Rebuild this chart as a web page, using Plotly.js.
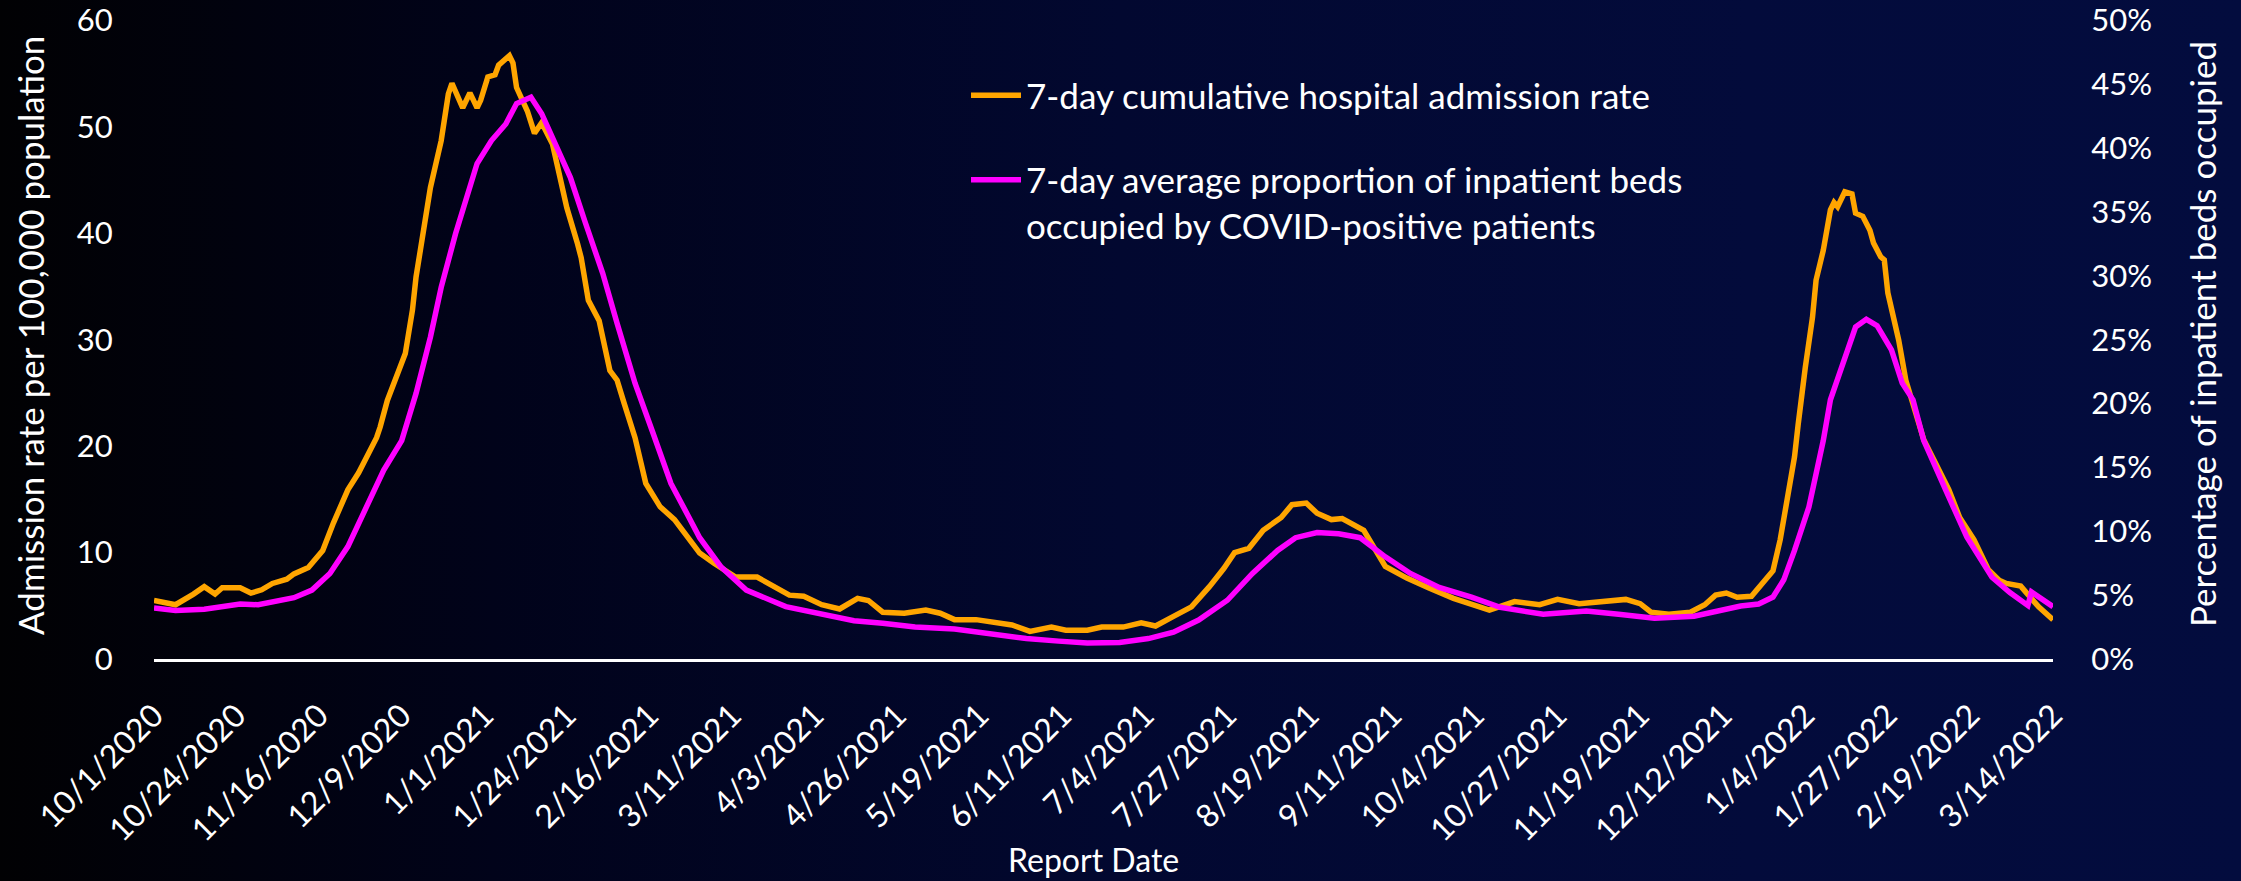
<!DOCTYPE html>
<html><head><meta charset="utf-8">
<script src="https://cdn.plot.ly/plotly-3.0.1.min.js"></script>
<style>
html,body{margin:0;padding:0;width:2241px;height:881px;overflow:hidden;
background:linear-gradient(90deg,#010103 0%,#01031a 22%,#020830 50%,#030b3b 78%,#030c3e 100%);}
#chart{width:2241px;height:881px;}
</style></head><body><div id="chart"></div>
<script>
const startDate = '2020-10-01';
const endDate = '2022-03-14';
const tickLabels = ['10/1/2020','10/24/2020','11/16/2020','12/9/2020','1/1/2021','1/24/2021','2/16/2021','3/11/2021','4/3/2021','4/26/2021','5/19/2021','6/11/2021','7/4/2021','7/27/2021','8/19/2021','9/11/2021','10/4/2021','10/27/2021','11/19/2021','12/12/2021','1/4/2022','1/27/2022','2/19/2022','3/14/2022'];
const leftTicks = [0,10,20,30,40,50,60];
const rightTicks = [0,5,10,15,20,25,30,35,40,45,50];

// Days since 10/1/2020 and 7-day cumulative admission rate per 100,000
const admissionDays = [0,6,11,14,17,19,24,27,30,33,37,39,43,47,50,54,57,60,62,63,65,70,72,73,75,77,80,81,82,83,86,88,90,91,93,95,96,99,100,101,104,106,108,111,113,115,118,119,121,124,127,129,131,134,137,141,145,149,152,156,162,168,171,177,181,186,191,196,199,203,209,215,219,223,229,233,239,244,250,254,260,264,270,275,279,284,289,294,298,301,305,309,314,317,321,324,328,331,337,343,349,355,362,372,375,379,386,391,397,404,410,414,417,422,428,432,435,438,441,445,448,451,453,455,457,458,459,460,462,463,465,467,468,469,471,473,474,476,478,479,481,482,483,486,488,493,500,503,507,511,514,516,520,522,525,529];
const admissionRate = [5.5,5.1,6.1,6.8,6.1,6.7,6.7,6.2,6.5,7.1,7.5,8.0,8.6,10.2,12.8,15.9,17.5,19.6,20.8,21.8,24.3,28.7,32.8,35.9,40.0,44.3,48.7,50.9,53.1,54.1,51.8,53.2,51.8,52.5,54.7,54.9,55.8,56.7,56.0,53.7,51.5,49.4,50.4,48.4,45.6,42.4,39.0,37.7,33.7,31.8,27.1,26.2,24.0,20.8,16.5,14.3,13.1,11.2,9.95,9.0,7.7,7.7,7.1,6.0,5.9,5.1,4.7,5.7,5.5,4.4,4.3,4.6,4.3,3.7,3.7,3.5,3.2,2.6,3.0,2.7,2.7,3.0,3.0,3.4,3.1,4.0,4.9,6.8,8.5,10.0,10.4,12.1,13.3,14.5,14.65,13.7,13.1,13.2,12.1,8.7,7.6,6.7,5.7,4.6,5.0,5.4,5.1,5.6,5.2,5.35,5.6,5.2,4.4,4.2,4.4,5.1,6.0,6.2,5.8,5.9,7.2,8.3,11.2,14.9,19.0,22.0,24.3,27.4,32.1,35.6,38.4,42.2,42.9,42.5,43.9,43.7,41.9,41.6,40.3,39.1,37.8,37.5,34.4,30.0,26.2,20.6,15.9,13.3,11.2,8.4,7.4,7.1,6.85,6.0,4.9,3.7];

// Days since 10/1/2020 and 7-day average % of inpatient beds occupied by COVID-positive patients
const bedsDays = [0,6,14,19,24,29,34,39,44,49,54,59,64,69,73,77,80,84,88,90,94,98,101,105,108,111,116,120,125,129,134,139,144,149,152,158,165,176,185,195,203,212,223,232,243,252,260,269,277,284,291,299,306,313,318,324,330,336,343,350,358,367,375,387,399,408,418,429,437,442,447,451,454,457,461,464,465,467,471,474,477,480,484,487,490,493,499,505,512,517,522,523,529];
const bedsPct = [4.0,3.8,3.9,4.15,4.3,4.25,4.5,4.8,5.4,6.7,8.8,11.7,14.8,17.1,20.8,25.2,29.1,33.3,36.9,38.8,40.6,41.9,43.5,44.0,42.7,40.8,37.7,34.3,30.2,26.3,21.6,17.7,13.75,11.1,9.5,7.2,5.4,4.1,3.6,3.0,2.8,2.5,2.35,2.0,1.6,1.4,1.25,1.3,1.6,2.1,3.05,4.6,6.7,8.5,9.5,9.9,9.8,9.5,8.0,6.7,5.6,4.85,4.05,3.5,3.75,3.5,3.2,3.35,3.9,4.15,4.3,4.85,6.2,8.5,11.9,15.6,17.1,20.3,23.7,26.0,26.6,26.1,24.2,21.6,20.3,17.1,13.3,9.55,6.4,5.2,4.2,5.25,4.1];

function dayToDate(n){
  const d = new Date(startDate + 'T00:00:00Z');
  d.setUTCDate(d.getUTCDate() + n);
  return d.toISOString().slice(0,10);
}
function labelToDate(s){
  const [m,d,y] = s.split('/');
  return y + '-' + m.padStart(2,'0') + '-' + d.padStart(2,'0');
}

const W = 2241, H = 881;
const M = {l:154, r:188, t:20, b:222};
const pw = W - M.l - M.r, ph = H - M.t - M.b;
const fx = px => (px - M.l) / pw;
const fy = py => (H - M.b - py) / ph;

const FONT = 'Lato, "Open Sans", sans-serif';

const traces = [
  {
    x: admissionDays.map(dayToDate), y: admissionRate,
    type: 'scatter', mode: 'lines', yaxis: 'y', legendgroup: 'adm',
    name: '7-day cumulative hospital admission rate',
    line: {color: '#FFA500', width: 5.5, shape: 'linear'}
  },
  {
    x: bedsDays.map(dayToDate), y: bedsPct,
    type: 'scatter', mode: 'lines', yaxis: 'y2', legendgroup: 'beds',
    name: '7-day average proportion of inpatient beds<br>occupied by COVID-positive patients',
    line: {color: '#FF00FF', width: 5.5, shape: 'linear'}
  }
];

const layout = {
  width: W, height: H,
  margin: M,
  paper_bgcolor: 'rgba(0,0,0,0)',
  plot_bgcolor: 'rgba(0,0,0,0)',
  font: {family: FONT, color: '#ffffff', size: 31},
  showlegend: true,
  legend: {
    x: fx(966), y: fy(66), xanchor: 'left', yanchor: 'top',
    bgcolor: 'rgba(0,0,0,0)', font: {family: FONT, size: 35, color: '#ffffff'},
    tracegroupgap: 36, valign: 'top', itemwidth: 50
  },
  xaxis: {
    type: 'date', range: [startDate, endDate],
    tickmode: 'array', tickvals: tickLabels.map(labelToDate), ticktext: tickLabels,
    tickangle: -45, tickfont: {family: FONT, size: 32, color: '#ffffff'},
    ticks: 'outside', ticklen: 22, tickcolor: 'rgba(0,0,0,0)',
    showgrid: false, zeroline: false,
    showline: true, linecolor: '#ffffff', linewidth: 3
  },
  yaxis: {
    range: [0, 60.05], tickmode: 'array', tickvals: leftTicks, ticktext: leftTicks.map(String),
    tickfont: {family: FONT, size: 31, color: '#ffffff'},
    ticks: 'outside', ticklen: 34, tickcolor: 'rgba(0,0,0,0)',
    showgrid: false, zeroline: false, showline: false
  },
  yaxis2: {
    range: [0, 50.04], overlaying: 'y', side: 'right',
    tickmode: 'array', tickvals: rightTicks, ticktext: rightTicks.map(v => v + '%'),
    tickfont: {family: FONT, size: 31, color: '#ffffff'},
    ticks: 'outside', ticklen: 31, tickcolor: 'rgba(0,0,0,0)',
    showgrid: false, zeroline: false, showline: false
  },
  annotations: [
    {text: 'Admission rate per 100,000 population', xref: 'paper', yref: 'paper',
     x: fx(30), y: fy(336), xanchor: 'center', yanchor: 'middle', textangle: -90,
     showarrow: false, font: {family: FONT, size: 35, color: '#ffffff'}},
    {text: 'Percentage of inpatient beds occupied', xref: 'paper', yref: 'paper',
     x: fx(2202), y: fy(334), xanchor: 'center', yanchor: 'middle', textangle: -90,
     showarrow: false, font: {family: FONT, size: 35, color: '#ffffff'}},
    {text: 'Report Date', xref: 'paper', yref: 'paper',
     x: fx(1093), y: fy(860), xanchor: 'center', yanchor: 'middle',
     showarrow: false, font: {family: FONT, size: 32, color: '#ffffff'}}
  ]
};

Plotly.newPlot('chart', traces, layout, {displayModeBar: false, staticPlot: true});
</script></body></html>
